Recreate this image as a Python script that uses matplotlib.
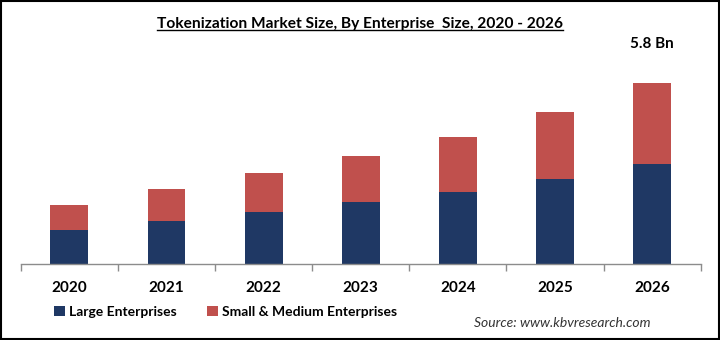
import numpy as np
import matplotlib
matplotlib.use("Agg")
import matplotlib.pyplot as plt
from matplotlib.lines import Line2D
from matplotlib.patches import Rectangle

years = ["2020", "2021", "2022", "2023", "2024", "2025", "2026"]
large = [1.10, 1.38, 1.68, 1.98, 2.31, 2.73, 3.21]
small_medium = [0.79, 1.03, 1.24, 1.48, 1.77, 2.14, 2.59]
series_names = ["Large Enterprises", "Small & Medium Enterprises"]
top_label = "5.8 Bn"

navy = "#1F3864"
red = "#C0504D"
plt.rcParams['font.family'] = ['Lato', 'DejaVu Sans']

fig = plt.figure(figsize=(7.2, 3.4), dpi=100)
ax = fig.add_axes([0.0288, 0.2235, 0.9444, 0.60])

x = np.arange(len(years))
ax.bar(x, large, width=0.39, color=navy, label=series_names[0])
ax.bar(x, small_medium, width=0.39, bottom=large, color=red, label=series_names[1])

ax.set_xlim(-0.5, len(years) - 0.5)
ax.set_ylim(0, 6.55)
ax.set_yticks([])
for s in ["left", "right", "top"]:
    ax.spines[s].set_visible(False)
ax.spines["bottom"].set_color("#8c8c8c")
ax.spines["bottom"].set_linewidth(1.0)

ax.set_xticks(x)
ax.set_xticklabels(years, fontsize=11, fontweight="bold")
ax.tick_params(axis="x", which="major", length=0, pad=12)
ax.set_xticks(np.arange(-0.5, len(years)), minor=True)
ax.tick_params(axis="x", which="minor", length=5, color="#8c8c8c", width=1)

total_last = large[-1] + small_medium[-1]
ax.text(x[-1], total_last + 1.27, top_label, ha="center", va="center",
        fontsize=11, fontweight="bold")

title = fig.text(0.5, 0.93, "Tokenization Market Size, By Enterprise  Size, 2020 - 2026",
                 ha="center", va="center", fontsize=11.2, fontweight="bold")

leg = fig.legend(loc="center left", bbox_to_anchor=(0.058, 0.083), ncol=2, frameon=False,
                 prop={"size": 10, "weight": "bold"}, handlelength=0.75, handleheight=0.75,
                 handletextpad=0.3, columnspacing=2.2)

fig.text(0.904, 0.05, "Source: www.kbvresearch.com", ha="right", va="center",
         fontsize=10, style="italic", color="#333333")

# underline the title
fig.canvas.draw()
bb = title.get_window_extent().transformed(fig.transFigure.inverted())
fig.add_artist(Line2D([bb.x0, bb.x1], [bb.y0 + 0.002, bb.y0 + 0.002],
                      color="black", lw=1.0, transform=fig.transFigure))

# outer border
fig.add_artist(Rectangle((0.001, 0.002), 0.997, 0.996, transform=fig.transFigure,
                         fill=False, edgecolor="black", lw=1.5))

fig.savefig("out.png", dpi=100)
